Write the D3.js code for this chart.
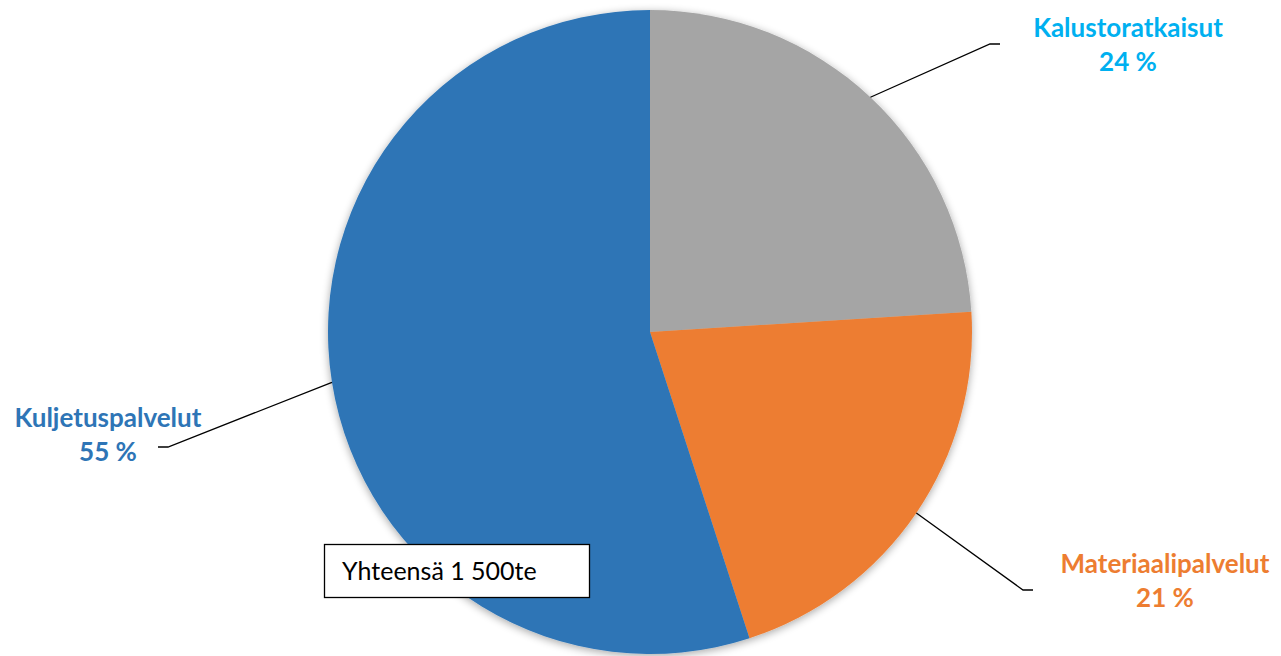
<!DOCTYPE html>
<html>
<head>
<meta charset="utf-8">
<script src="https://cdn.jsdelivr.net/npm/d3@7/dist/d3.min.js"></script>
<style>
  html, body { margin: 0; padding: 0; background: #fff; }
  svg { display: block; }
</style>
</head>
<body>
<svg id="chart" width="1281" height="656"></svg>
<script>
// data
var categories = ["Kalustoratkaisut", "Materiaalipalvelut", "Kuljetuspalvelut"];
var shares = [24, 21, 55];
var total = "Yhteensä 1 500te";

var sliceColors = ["#A5A5A5", "#ED7D31", "#2E75B6"];
var labelColors = ["#00B0F0", "#ED7D31", "#2E75B6"];

// label layout: elbow point, line end, text anchor centre
var labelLayout = [
  { elbow: [990, 44], end: [1000, 44], tx: 1128, ty: 37 },
  { elbow: [1023, 590], end: [1033, 590], tx: 1165, ty: 573 },
  { elbow: [168, 447], end: [158, 447], tx: 108, ty: 427 }
];

var width = 1281, height = 656;
var cx = 650, cy = 332, r = 322;

var svg = d3.select("#chart");

var defs = svg.append("defs");
var f = defs.append("filter").attr("id", "shadow")
  .attr("x", "-10%").attr("y", "-10%").attr("width", "120%").attr("height", "120%");
f.append("feGaussianBlur").attr("in", "SourceAlpha").attr("stdDeviation", 4).attr("result", "b");
f.append("feOffset").attr("in", "b").attr("dx", 0).attr("dy", 2).attr("result", "o");
f.append("feComponentTransfer").attr("in", "o").attr("result", "s")
  .append("feFuncA").attr("type", "linear").attr("slope", 0.35);
var m = f.append("feMerge");
m.append("feMergeNode").attr("in", "s");
m.append("feMergeNode").attr("in", "SourceGraphic");

var pie = d3.pie().sort(null).value(function (d) { return d; });
var arcs = pie(shares);
var arc = d3.arc().innerRadius(0).outerRadius(r);

var g = svg.append("g").attr("transform", "translate(" + cx + "," + cy + ")");

g.append("g").attr("filter", "url(#shadow)")
  .selectAll("path")
  .data(arcs)
  .enter().append("path")
  .attr("d", arc)
  .attr("fill", function (d, i) { return sliceColors[i]; })
  .attr("stroke", "none");

// leader lines + labels
arcs.forEach(function (d, i) {
  var a = (d.startAngle + d.endAngle) / 2;
  var x0 = cx + r * Math.sin(a), y0 = cy - r * Math.cos(a);
  var L = labelLayout[i];
  svg.append("polyline")
    .attr("points", [[x0, y0], L.elbow, L.end].map(function (p) { return p.join(","); }).join(" "))
    .attr("fill", "none")
    .attr("stroke", "#000")
    .attr("stroke-width", 1.3);

  var t = svg.append("text")
    .attr("text-anchor", "middle")
    .attr("font-family", "Lato, 'Open Sans', sans-serif")
    .attr("font-weight", "bold")
    .attr("font-size", 26)
    .attr("fill", labelColors[i]);
  t.append("tspan").attr("x", L.tx).attr("y", L.ty).text(categories[i]);
  t.append("tspan").attr("x", L.tx).attr("y", L.ty + 34).text(shares[i] + " %");
});

// total box
svg.append("rect")
  .attr("x", 324.5).attr("y", 544.5).attr("width", 265).attr("height", 53)
  .attr("fill", "#fff").attr("stroke", "#000").attr("stroke-width", 1.3);
svg.append("text")
  .attr("x", 342).attr("y", 580)
  .attr("font-family", "Lato, 'Open Sans', sans-serif")
  .attr("font-size", 25)
  .attr("fill", "#000")
  .text(total);
</script>
</body>
</html>
